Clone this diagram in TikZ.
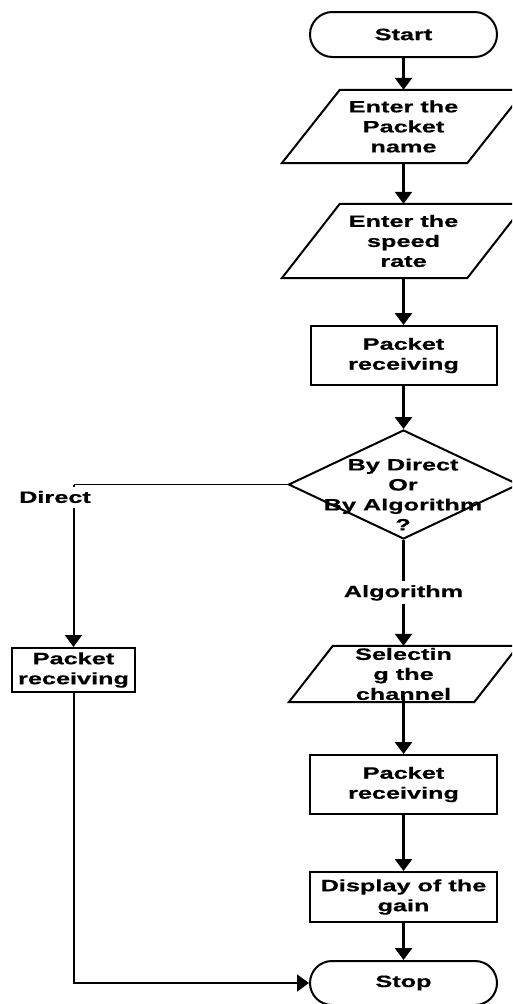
\documentclass[tikz,border=0pt]{standalone}
\usepackage{fontspec}
\newfontfamily\flowfont[FakeStretch=1.54,FakeBold=0.6]{Liberation Sans}
\usetikzlibrary{shapes.misc,shapes.geometric,arrows.meta,calc}

% slanted input/output box drawn around an invisible rectangle node
\newcommand{\slantbox}[2]{%
  \draw[outline] ($(#1.south west)+(-#2,0)$) -- ($(#1.north west)+(#2,0)$)
    -- ($(#1.north east)+(#2,0)$) -- ($(#1.south east)+(-#2,0)$) -- cycle;}

\begin{document}
\begin{tikzpicture}[x=1pt,y=-1pt,
  every node/.style={font=\flowfont\bfseries\fontsize{16.4}{20}\selectfont,
    align=center, inner sep=0pt},
  outline/.style={line width=2pt, line join=miter},
  terminal/.style={rounded rectangle, draw, outline, minimum width=187pt},
  process/.style={rectangle, draw, outline},
  iobox/.style={rectangle, minimum width=185pt},
  decision/.style={diamond, draw, outline, minimum width=230pt, minimum height=109pt},
  arr/.style={line width=2.7pt, -{Triangle[width=17pt,length=12pt]}},
  route/.style={line width=2pt, -{Triangle[width=17pt,length=12pt]}},
  thinroute/.style={line width=1.3pt},
  lbl/.style={fill=white}]

\useasboundingbox (0,0) rectangle (512,1004);
\clip (0,0) rectangle (512,1004);

% main column
\node[terminal, minimum height=45pt] (start) at (403.5,34.5) {Start};
\node[iobox, minimum height=73pt] (p1) at (403.5,126.5) {Enter the\\Packet\\name};
\node[iobox, minimum height=74pt] (p2) at (403.5,241) {Enter the\\speed\\rate};
\node[process, minimum width=186pt, minimum height=59pt] (r1) at (403.5,355.5) {Packet\\receiving};
\node[decision] (dec) at (403.5,484.5) {};
\node (dectext) at (403,494.5) {By Direct\\Or\\By Algorithm\\?};
\node[iobox, minimum height=56pt] (p3) at (403.5,674) {Selectin\\g the\\channel};
\node[process, minimum width=187pt, minimum height=59pt] (r2) at (403.5,784.5) {Packet\\receiving};
\node[process, minimum width=187pt, minimum height=50pt] (r3) at (403.5,897) {Display of the\\gain};
\node[terminal, minimum height=44pt] (stop) at (403.5,983) {Stop};

% direct branch
\node[process, minimum width=123pt, minimum height=44pt] (lr) at (73.5,670) {Packet\\receiving};
\coordinate (corner) at (dec.west -| lr.north);

\slantbox{p1}{29}
\slantbox{p2}{29}
\slantbox{p3}{22}

% connectors
\draw[arr] (start) -- (p1);
\draw[arr] (p1) -- (p2);
\draw[arr] (p2) -- (r1);
\draw[arr] (r1) -- (dec);
\draw[arr] (dec) -- node[lbl, minimum height=23pt] {Algorithm} (p3);
\draw[arr] ($(p3.south)+(0,-6)$) -- (r2);
\draw[arr] (r2) -- (r3);
\draw[arr] (r3) -- (stop);
\draw[thinroute] (dec.west) -- (corner);
\draw[route] (corner) -- (lr.north);
\node[lbl, minimum height=21pt] (directlbl) at (55,497) {Direct};
\draw[route] (lr.south) |- (stop.west);

\end{tikzpicture}
\end{document}
